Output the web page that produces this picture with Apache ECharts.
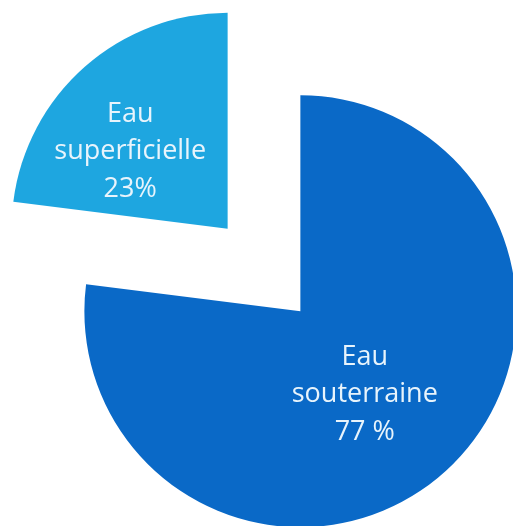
<!DOCTYPE html>
<html>
<head>
<meta charset="utf-8">
<script src="https://cdn.jsdelivr.net/npm/echarts@6/dist/echarts.min.js"></script>
<style>
  html, body { margin: 0; padding: 0; background: #ffffff; }
  #chart { width: 513px; height: 526px; }
</style>
</head>
<body>
<div id="chart"></div>
<script>
// Origine de l'eau prélevée (part en %)
const categories = ['Eau\nsouterraine', 'Eau\nsuperficielle'];
const shares = [77, 23];
const shareLabels = ['77 %', '23%'];
const sliceColors = ['#0a69c7', '#1ea6e0'];

const chart = echarts.init(document.getElementById('chart'), null, { renderer: 'canvas' });

// Small nudges of each label from the default mid-radius spot
const labelShift = [[-9, 0], [-24, 6]];

const data = categories.map((name, i) => ({
  name: name,
  value: shares[i],
  selected: true,
  itemStyle: { color: sliceColors[i] },
  label: { formatter: name + '\n' + shareLabels[i] }
}));

chart.setOption({
  animation: false,
  series: [{
    type: 'pie',
    center: [264, 270],
    radius: [0, 216],
    startAngle: 90,
    clockwise: true,
    selectedMode: 'multiple',
    selectedOffset: 55,
    avoidLabelOverlap: false,
    label: {
      show: true,
      position: 'inside',
      color: '#e8f4fc',
      fontFamily: 'Open Sans',
      fontSize: 27,
      lineHeight: 37.5,
      align: 'center'
    },
    labelLayout: function (params) {
      const s = labelShift[params.dataIndex];
      return { dx: s[0], dy: s[1] };
    },
    labelLine: { show: false },
    emphasis: { disabled: true },
    itemStyle: { borderWidth: 0 },
    data: data
  }]
});
</script>
</body>
</html>
